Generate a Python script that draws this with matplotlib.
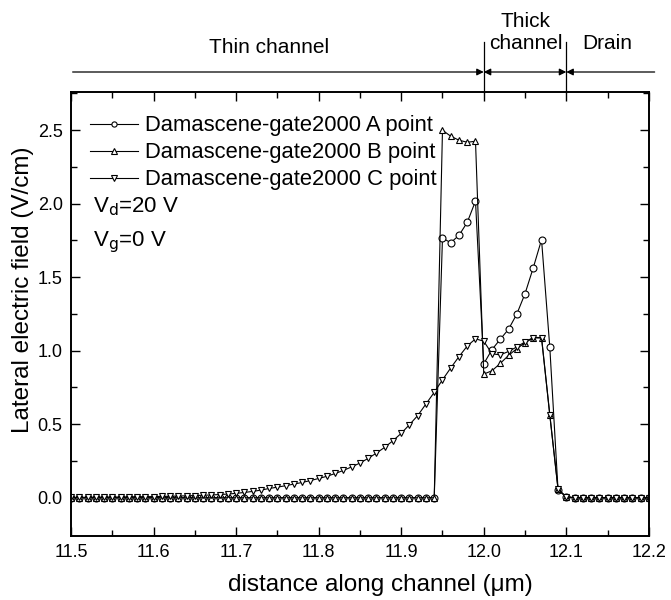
import numpy as np
from matplotlib import pyplot as plt

plt.rcParams['font.family'] = ['Liberation Sans', 'DejaVu Sans']

# === Data ===
distance = np.round(np.arange(11.50, 12.205, 0.01), 2)   # 71 points, 0.01 um step

zeros_left = [0.0] * 45     # 11.50 .. 11.94
zeros_right = [0.0] * 10    # 12.11 .. 12.20

field_a = zeros_left + [1.766, 1.735, 1.785, 1.873, 2.018, 0.911, 1.008, 1.078,
                        1.146, 1.249, 1.388, 1.565, 1.755, 1.024, 0.052, 0.005] + zeros_right
field_b = zeros_left + [2.500, 2.459, 2.432, 2.418, 2.425, 0.841, 0.864, 0.914,
                        0.968, 1.014, 1.054, 1.088, 1.086, 0.562, 0.058, 0.006] + zeros_right
field_c = [0.002, 0.003, 0.003, 0.004, 0.004, 0.005, 0.005, 0.006, 0.007, 0.007,
           0.008, 0.009, 0.010, 0.012, 0.013, 0.015, 0.017, 0.019, 0.022, 0.025,
           0.030, 0.036, 0.043, 0.052, 0.063, 0.072, 0.082, 0.093, 0.104, 0.117,
           0.131, 0.146, 0.165, 0.186, 0.210, 0.236, 0.268, 0.304, 0.343, 0.388,
           0.438, 0.497, 0.559, 0.638, 0.717, 0.802, 0.883, 0.960, 1.032, 1.081,
           1.065, 0.979, 0.972, 0.995, 1.026, 1.060, 1.090, 1.090, 0.566, 0.058,
           0.006] + zeros_right

series_labels = ["Damascene-gate2000 A point",
                 "Damascene-gate2000 B point",
                 "Damascene-gate2000 C point"]
series_markers = ["o", "^", "v"]

region_bounds = [12.0, 12.1]

# === Figure ===
fig = plt.figure(figsize=(6.71, 6.0), dpi=100)
ax = fig.add_axes([0.1058, 0.1067, 0.8612, 0.74])

for vals, lab, mk in zip([field_a, field_b, field_c], series_labels, series_markers):
    ax.plot(distance, vals, color="black", linewidth=0.8, marker=mk, markersize=5,
            markerfacecolor="white", markeredgecolor="black", markeredgewidth=0.8,
            label=lab)

ax.set_xlim(11.5, 12.2)
ax.set_ylim(-0.26, 2.76)
ax.set_xticks(np.arange(11.5, 12.21, 0.1))
ax.set_xticks(np.arange(11.55, 12.2, 0.1), minor=True)
ax.set_yticks(np.arange(0, 2.51, 0.5))
ax.set_yticks(np.arange(0.25, 2.76, 0.5), minor=True)
ax.set_xticklabels([f"{v:.1f}" for v in np.arange(11.5, 12.21, 0.1)])
ax.set_yticklabels([f"{v:.1f}" for v in np.arange(0, 2.51, 0.5)])
ax.tick_params(which="both", direction="in", top=True, right=True, width=1,
               labelsize=13)
ax.tick_params(which="major", length=6.5, pad=6)
ax.tick_params(which="minor", length=4)
for sp in ax.spines.values():
    sp.set_linewidth(1.4)

ax.set_xlabel("distance along channel (\u03bcm)", fontsize=17.5, labelpad=7)
ax.xaxis.set_label_coords(0.536, -0.085)
ax.set_ylabel("Lateral electric field (V/cm)", fontsize=17.5)
ax.yaxis.set_label_coords(-0.064, 0.554)

leg = ax.legend(loc="upper left", bbox_to_anchor=(0.014, 0.972), frameon=False,
                fontsize=15.8, handlelength=2.2, handletextpad=0.3,
                labelspacing=0.27, borderpad=0, markerscale=0.75)

ax.text(0.038, 0.741, "V$_{\\rm d}$=20 V", transform=ax.transAxes, fontsize=16,
        va="center")
ax.text(0.038, 0.662, "V$_{\\rm g}$=0 V", transform=ax.transAxes, fontsize=16,
        va="center")

# === Region markers above the plot ===
tr = ax.get_xaxis_transform()
for xb in region_bounds:
    ax.plot([xb, xb], [1.0, 1.113], transform=tr, color="black", lw=0.9,
            clip_on=False)

arrow_y = 1.045
one_head = dict(arrowstyle="-|>", color="black", lw=0.9, mutation_scale=10,
                shrinkA=0, shrinkB=0)
two_head = dict(arrowstyle="<|-|>", color="black", lw=0.9, mutation_scale=10,
                shrinkA=0, shrinkB=0)
ax.annotate("", xy=(12.0, arrow_y), xytext=(11.502, arrow_y), xycoords=tr,
            textcoords=tr, arrowprops=one_head)
ax.annotate("", xy=(12.1, arrow_y), xytext=(12.0, arrow_y), xycoords=tr,
            textcoords=tr, arrowprops=two_head)
ax.annotate("", xy=(12.1, arrow_y), xytext=(12.207, arrow_y), xycoords=tr,
            textcoords=tr, arrowprops=one_head)

ax.text(11.74, 1.101, "Thin channel", transform=tr, ha="center", va="center",
        fontsize=15)
ax.text(12.051, 1.135, "Thick\nchannel", transform=tr, ha="center", va="center",
        fontsize=15, linespacing=1.2)
ax.text(12.15, 1.110, "Drain", transform=tr, ha="center", va="center",
        fontsize=15)

fig.savefig("out.png", dpi=100)
plt.close(fig)
